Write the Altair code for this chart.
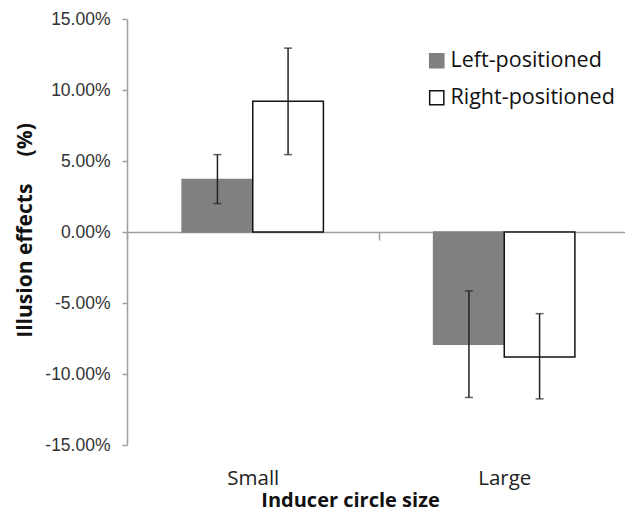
import altair as alt
import pandas as pd

categories = ["Small", "Small", "Large", "Large"]
groups = ["Left-positioned", "Right-positioned", "Left-positioned", "Right-positioned"]
means = [3.7, 9.2, -7.9, -8.8]
err_low = [2.0, 5.45, -11.65, -11.75]
err_high = [5.45, 12.95, -4.15, -5.75]

df = pd.DataFrame({
    "size": categories,
    "group": groups,
    "mean": means,
    "lo": err_low,
    "hi": err_high,
})

cat_order = ["Small", "Large"]
grp_order = ["Left-positioned", "Right-positioned"]
y_ticks = [-15, -10, -5, 0, 5, 10, 15]

label_font = "Open Sans"

x_enc = alt.X(
    "size:N",
    sort=cat_order,
    scale=alt.Scale(paddingInner=0, paddingOuter=0, range=[0, 503]),
    axis=alt.Axis(
        title="Inducer circle size",
        titleFont=label_font,
        titleFontWeight="bold",
        titleFontSize=20,
        titleColor="#111",
        titleX=223,
        titleY=268,
        titleAlign="center",
        titleBaseline="middle",
        offset=-213,
        domainColor="#a0a0a0",
        domainWidth=1.5,
        tickColor="#a0a0a0",
        tickWidth=1.5,
        tickSize=8,
        tickBand="extent",
        labelFont=label_font,
        labelFontSize=20.5,
        labelColor="#222",
        labelPadding=228,
        labelAngle=0,
    ),
)
xoff = alt.XOffset(
    "group:N",
    sort=grp_order,
    scale=alt.Scale(paddingInner=0, paddingOuter=0.78),
)

y_enc = alt.Y(
    "mean:Q",
    scale=alt.Scale(domain=[-15, 15], nice=False, zero=False),
    axis=alt.Axis(
        title="Illusion effects\u00a0\u00a0\u00a0\u00a0\u00a0(%)",
        titleFont=label_font,
        titleFontWeight="bold",
        titleFontSize=21,
        titleColor="#111",
        titleX=-102,
        titleY=211,
        titleAlign="center",
        titleBaseline="middle",
        values=y_ticks,
        labelExpr="replace(format(datum.value, '.2f'), '\u2212', '-') + '%'",
        labelFont="Liberation Sans",
        labelFontSize=17.5,
        labelColor="#333",
        labelPadding=12,
        grid=False,
        domainColor="#a0a0a0",
        domainWidth=1.5,
        tickColor="#a0a0a0",
        tickWidth=1.5,
        tickSize=5,
    ),
)

legend = alt.Legend(
    title=None,
    orient="none",
    legendX=299,
    legendY=31,
    symbolType="square",
    symbolSize=200,
    symbolStrokeWidth=1.5,
    labelFont=label_font,
    labelFontSize=21.5,
    labelColor="#111",
    labelLimit=300,
    rowPadding=14,
    labelOffset=3,
)

bars = alt.Chart(df).mark_bar(strokeWidth=1.5).encode(
    x=x_enc,
    xOffset=xoff,
    y=y_enc,
    y2=alt.datum(0),
    fill=alt.Fill(
        "group:N",
        sort=grp_order,
        scale=alt.Scale(domain=grp_order, range=["#808080", "#ffffff"]),
        legend=legend,
    ),
    stroke=alt.Stroke(
        "group:N",
        sort=grp_order,
        scale=alt.Scale(domain=grp_order, range=["#808080", "#111111"]),
        legend=legend,
    ),
)

whiskers = alt.Chart(df).mark_rule(color="#222", strokeWidth=1.5).encode(
    x=alt.X("size:N", sort=cat_order),
    xOffset=xoff,
    y="lo:Q",
    y2="hi:Q",
)

caps_lo = alt.Chart(df).mark_tick(color="#222", thickness=1.5, size=8).encode(
    x=alt.X("size:N", sort=cat_order),
    xOffset=xoff,
    y="lo:Q",
)
caps_hi = alt.Chart(df).mark_tick(color="#222", thickness=1.5, size=8).encode(
    x=alt.X("size:N", sort=cat_order),
    xOffset=xoff,
    y="hi:Q",
)

chart = alt.layer(bars, whiskers, caps_lo, caps_hi).properties(
    width=498,
    height=426,
    autosize=alt.AutoSizeParams(type="none"),
    padding={"left": 127, "top": 19, "right": 0, "bottom": 67},
    background="white",
).configure_view(stroke=None)

chart.save("out.html", embed_options={"renderer": "svg", "actions": False})
